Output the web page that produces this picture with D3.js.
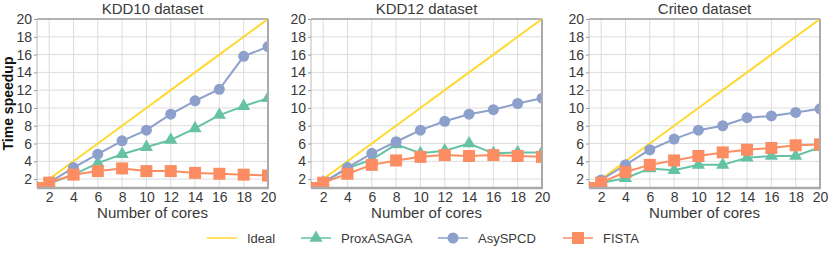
<!DOCTYPE html>
<html>
<head>
<meta charset="utf-8">
<script src="https://cdn.jsdelivr.net/npm/d3@7"></script>
<style>
  body { margin: 0; background: #fff; }
  text { font-family: "Liberation Sans", Arial, sans-serif; }
</style>
</head>
<body>
<div id="viz"></div>
<script>
const cores = [1, 2, 4, 6, 8, 10, 12, 14, 16, 18, 20];
const xTicks = [2, 4, 6, 8, 10, 12, 14, 16, 18, 20];
const yTicks = [2, 4, 6, 8, 10, 12, 14, 16, 18, 20];
const titles = ["KDD10 dataset", "KDD12 dataset", "Criteo dataset"];
const seriesNames = ["Ideal", "ProxASAGA", "AsySPCD", "FISTA"];

const ideal = [1, 2, 4, 6, 8, 10, 12, 14, 16, 18, 20];

const kdd10Prox = [1, 1.5, 2.5, 3.8, 4.8, 5.6, 6.4, 7.7, 9.2, 10.2, 11.1];
const kdd10Asy = [1, 1.6, 3.3, 4.8, 6.3, 7.5, 9.3, 10.8, 12.1, 15.8, 16.9];
const kdd10Fista = [1, 1.6, 2.5, 2.9, 3.2, 2.9, 2.9, 2.7, 2.6, 2.5, 2.4];

const kdd12Prox = [1, 1.6, 3.2, 4.2, 5.9, 4.9, 5.2, 6.0, 4.9, 5.0, 5.0];
const kdd12Asy = [1, 1.6, 3.3, 4.9, 6.2, 7.5, 8.5, 9.3, 9.8, 10.5, 11.1];
const kdd12Fista = [1, 1.6, 2.6, 3.6, 4.1, 4.5, 4.7, 4.6, 4.7, 4.6, 4.5];

const criteoProx = [1, 1.6, 2.1, 3.2, 3.0, 3.6, 3.6, 4.4, 4.6, 4.6, 5.6];
const criteoAsy = [1, 1.9, 3.6, 5.3, 6.5, 7.5, 8.0, 8.9, 9.1, 9.5, 9.9];
const criteoFista = [1, 1.6, 2.8, 3.6, 4.1, 4.6, 5.0, 5.3, 5.5, 5.8, 5.9];

const panels = [
  [kdd10Prox, kdd10Asy, kdd10Fista],
  [kdd12Prox, kdd12Asy, kdd12Fista],
  [criteoProx, criteoAsy, criteoFista]
];

const colors = { Ideal: "#ffd92f", ProxASAGA: "#66c2a5", AsySPCD: "#8da0cb", FISTA: "#fc8d62" };
const textColor = "#3a3a3a";

const W = 831, H = 256;
const svg = d3.select("#viz").append("svg").attr("width", W).attr("height", H);

const lefts = [37, 311, 589];
const plotW = 231;
const plotTop = 19, plotBottom = 188;

const x0 = d3.scaleLinear().domain([1, 20]);
const y = d3.scaleLinear().domain([1, 20]).range([plotBottom, plotTop]);

function marker(g, shape, color, cx, cy) {
  if (shape === "circle") {
    g.append("circle").attr("cx", cx).attr("cy", cy).attr("r", 5.5).attr("fill", color);
  } else if (shape === "square") {
    g.append("rect").attr("x", cx - 6).attr("y", cy - 6).attr("width", 12).attr("height", 12).attr("fill", color);
  } else if (shape === "triangle") {
    g.append("path").attr("d", d3.symbol(d3.symbolTriangle, 75)()).attr("transform", `translate(${cx},${cy})`).attr("fill", color);
  }
}

panels.forEach((vals, i) => {
  const left = lefts[i];
  const x = x0.copy().range([left, left + plotW]);
  const g = svg.append("g");

  // grid
  g.selectAll(".vg").data(xTicks).enter().append("line")
    .attr("x1", d => x(d)).attr("x2", d => x(d)).attr("y1", plotTop).attr("y2", plotBottom)
    .attr("stroke", "#ddd").attr("stroke-width", 1);
  g.selectAll(".hg").data(yTicks).enter().append("line")
    .attr("x1", left).attr("x2", left + plotW).attr("y1", d => y(d)).attr("y2", d => y(d))
    .attr("stroke", "#ddd").attr("stroke-width", 1);

  // frame
  g.append("line").attr("x1", left).attr("x2", left + plotW).attr("y1", plotTop).attr("y2", plotTop)
    .attr("stroke", "#555").attr("stroke-width", 0.8);
  g.append("line").attr("x1", left).attr("x2", left).attr("y1", plotTop).attr("y2", plotBottom)
    .attr("stroke", "#bbb").attr("stroke-width", 1);

  // axes
  const ax = g.append("g").attr("transform", `translate(0,${plotBottom})`)
    .call(d3.axisBottom(x).tickValues(xTicks).tickSize(0).tickPadding(4));
  ax.select(".domain").remove();
  ax.selectAll("text").style("font-size", "14px").attr("fill", textColor);

  const ay = g.append("g").attr("transform", `translate(${left},0)`)
    .call(d3.axisLeft(y).tickValues(yTicks).tickSize(3).tickPadding(2));
  ay.select(".domain").remove();
  ay.selectAll("line").attr("stroke", "#999");
  ay.selectAll("text").style("font-size", "14px").attr("fill", textColor);

  // title and x label
  g.append("text").attr("x", left + plotW / 2).attr("y", 14).attr("text-anchor", "middle")
    .style("font-size", "15px").attr("fill", textColor).text(titles[i]);
  g.append("text").attr("x", left + plotW / 2).attr("y", 218).attr("text-anchor", "middle")
    .style("font-size", "15px").attr("fill", textColor).text("Number of cores");

  const line = d3.line().x((d, j) => x(cores[j])).y(d => y(d));
  const clip = "clip" + i;
  svg.append("clipPath").attr("id", clip).append("rect")
    .attr("x", left).attr("y", plotTop).attr("width", plotW).attr("height", plotBottom - plotTop);
  const pg = g.append("g").attr("clip-path", `url(#${clip})`);

  pg.append("path").datum(ideal).attr("d", line).attr("fill", "none")
    .attr("stroke", colors.Ideal).attr("stroke-width", 2);

  const specs = [
    { name: "ProxASAGA", shape: "triangle", data: vals[0] },
    { name: "AsySPCD", shape: "circle", data: vals[1] },
    { name: "FISTA", shape: "square", data: vals[2] }
  ];
  specs.forEach(s => {
    pg.append("path").datum(s.data).attr("d", line).attr("fill", "none")
      .attr("stroke", colors[s.name]).attr("stroke-width", 2);
    s.data.forEach((v, j) => marker(pg, s.shape, colors[s.name], x(cores[j]), y(v)));
  });

  // right and bottom spines drawn over the marks
  g.append("line").attr("x1", left + plotW).attr("x2", left + plotW).attr("y1", plotTop).attr("y2", plotBottom)
    .attr("stroke", "#aaa").attr("stroke-width", 2);
  g.append("line").attr("x1", left).attr("x2", left + plotW + 1).attr("y1", plotBottom).attr("y2", plotBottom)
    .attr("stroke", "#aaa").attr("stroke-width", 2.5);
});

// y label
svg.append("text").attr("transform", `translate(13,${(plotTop + plotBottom) / 2}) rotate(-90)`)
  .attr("text-anchor", "middle").style("font-size", "14px").style("font-weight", "bold")
  .attr("fill", "#111").text("Time speedup");

// legend
const legendX = [207, 301, 438, 563];
const shapes = [null, "triangle", "circle", "square"];
const ly = 238;
seriesNames.forEach((n, i) => {
  const lg = svg.append("g");
  const lx = legendX[i];
  lg.append("line").attr("x1", lx).attr("x2", lx + 30).attr("y1", ly).attr("y2", ly)
    .attr("stroke", colors[n]).attr("stroke-width", 1.5);
  if (shapes[i]) marker(lg, shapes[i], colors[n], lx + 15, ly);
  lg.append("text").attr("x", lx + 40).attr("y", ly + 5).style("font-size", "13px")
    .attr("fill", textColor).text(n);
});
</script>
</body>
</html>
